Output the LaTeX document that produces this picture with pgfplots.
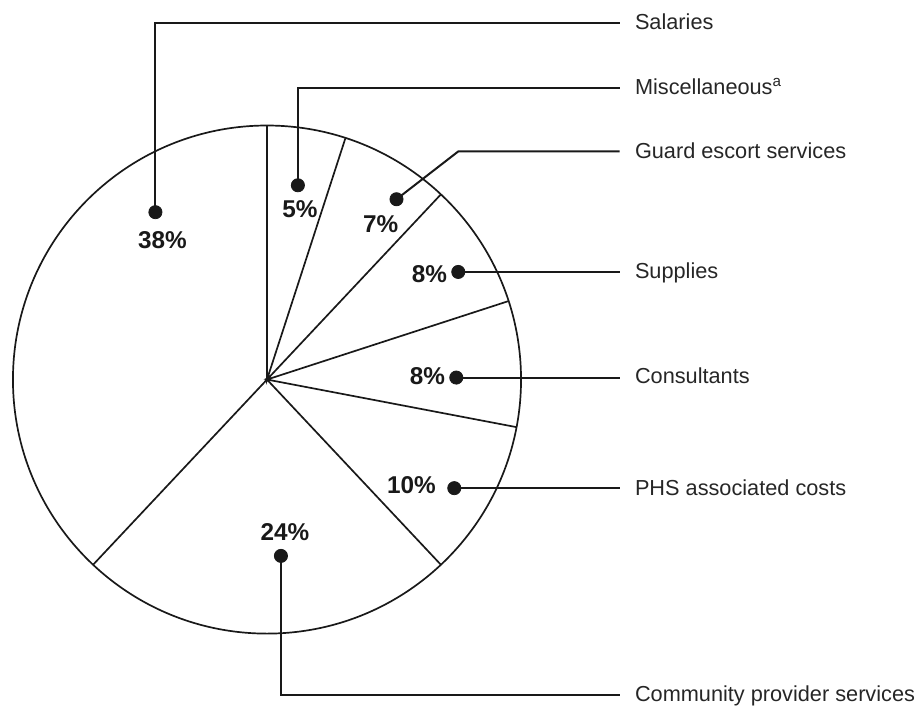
\documentclass[border=0pt]{standalone}
\usepackage{fontspec}
\setmainfont{Liberation Sans}
\usepackage{pgfplots}
\pgfplotsset{compat=1.18}
\begin{document}
\begin{tikzpicture}
\begin{axis}[
  scale only axis, width=457.5pt, height=355pt,
  xmin=-268, xmax=647, ymin=-329, ymax=381,
  hide axis, clip=false,
]
\path (axis cs:-268,-329) rectangle (axis cs:647,381);
% pie outline
\draw[line width=0.85pt, black!90] (axis cs:0,0) circle[radius=255];
% slice boundaries: cumulative shares 0,5,12,20,28,38,62 % clockwise from top (polar angle = 90 - 3.6*share)
\addplot[black!90, line width=0.85pt, data cs=polar, mark=none] coordinates {
(90,255) (0,0) (72,255) (0,0) (46.8,255) (0,0) (18,255) (0,0) (-10.8,255) (0,0) (-46.8,255) (0,0) (-133.2,255)};
% leader lines
\addplot[black!90, line width=1pt, mark=none] coordinates {(-112,168) (-112,358) (354,358)};
\addplot[black!90, line width=1pt, mark=none] coordinates {(31,195) (31,293) (354,293)};
\addplot[black!90, line width=1pt, mark=none] coordinates {(130,181) (192,229) (354,229)};
\addplot[black!90, line width=1pt, mark=none] coordinates {(192,108) (354,108)};
\addplot[black!90, line width=1pt, mark=none] coordinates {(190,2) (354,2)};
\addplot[black!90, line width=1pt, mark=none] coordinates {(188,-109) (354,-109)};
\addplot[black!90, line width=1pt, mark=none] coordinates {(14,-177) (14,-317) (354,-317)};
% dots
\addplot[only marks, mark=*, mark size=3.3pt, black!90] coordinates {
(-112,168) (31,195) (130,181) (192,108) (190,2) (188,-109) (14,-177)};
% category labels
\begin{scope}[every node/.style={anchor=base west, inner sep=0pt, font=\fontsize{10.9}{13}\selectfont, text=black!85}]
\node at (axis cs:369,351) {Salaries};
\node at (axis cs:369,286) {Miscellaneous\textsuperscript{a}};
\node at (axis cs:369,222) {Guard escort services};
\node at (axis cs:369,101) {Supplies};
\node at (axis cs:369,-4) {Consultants};
\node at (axis cs:369,-116) {PHS associated costs};
\node at (axis cs:369,-323) {Community provider services};
\end{scope}
% percentage labels
\begin{scope}[every node/.style={anchor=center, inner sep=0pt, font=\fontsize{12.2}{14}\selectfont\bfseries, text=black!90}]
\node at (axis cs:-105,140) {38\%};
\node at (axis cs:33,171) {5\%};
\node at (axis cs:114,156) {7\%};
\node at (axis cs:163,106) {8\%};
\node at (axis cs:161,3) {8\%};
\node at (axis cs:145,-106) {10\%};
\node at (axis cs:18,-153) {24\%};
\end{scope}
\end{axis}
\end{tikzpicture}
\end{document}
